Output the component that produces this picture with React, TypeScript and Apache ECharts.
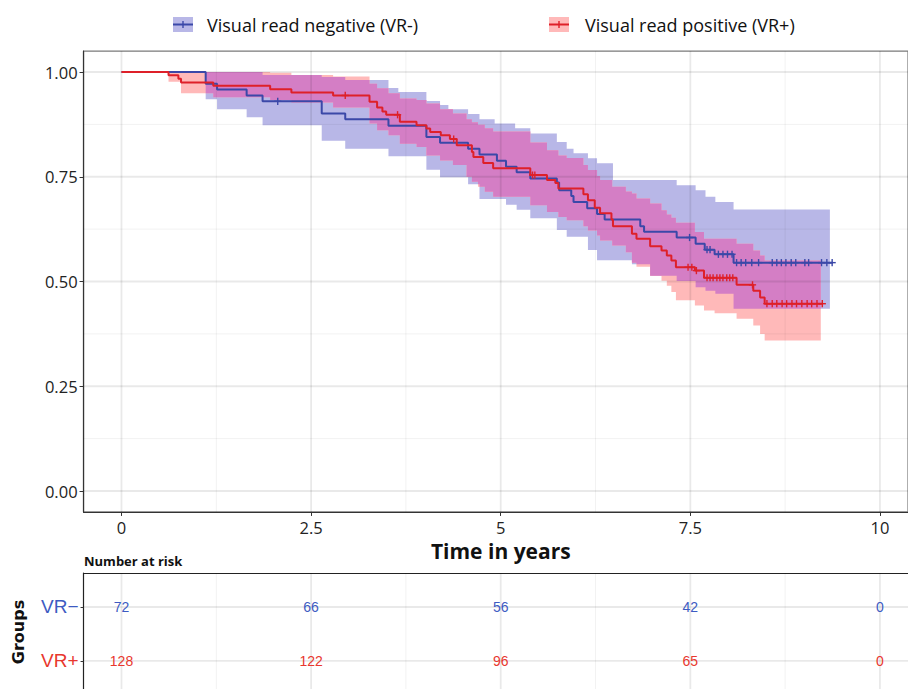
import React, { useEffect, useRef } from 'react';
import * as echarts from 'echarts';

// ---------- data ----------
const xTicks = [0, 2.5, 5, 7.5, 10];
const xMinorTicks = [1.25, 3.75, 6.25, 8.75];
const yTicks = [0, 0.25, 0.5, 0.75, 1];
const yMinorTicks = [0.125, 0.375, 0.625, 0.875];

const legendLabels = ['Visual read negative (VR-)', 'Visual read positive (VR+)'];
const groupLabels = ['VR−', 'VR+'];

// Kaplan-Meier steps: [time, survival] (value holds from time onward)
const negSteps = [
  [0, 1], [1.11, 0.972], [1.26, 0.958], [1.65, 0.944], [1.86, 0.93], [2.64, 0.901],
  [2.95, 0.887], [3.52, 0.872], [4.02, 0.845], [4.2, 0.831], [4.57, 0.817], [4.72, 0.803],
  [4.95, 0.788], [5.07, 0.774], [5.21, 0.761], [5.39, 0.746], [5.74, 0.736], [5.77, 0.718],
  [5.93, 0.704], [5.96, 0.69], [6.14, 0.675], [6.27, 0.661], [6.37, 0.648], [6.84, 0.632],
  [6.89, 0.619], [7.32, 0.605], [7.57, 0.59], [7.69, 0.576], [7.82, 0.565], [8.07, 0.545],
];
const negEnd = 9.38;
const posSteps = [
  [0, 1], [0.62, 0.992], [0.75, 0.984], [0.785, 0.975], [1.21, 0.967], [1.96, 0.959],
  [2.24, 0.951], [2.79, 0.944], [3.27, 0.929], [3.37, 0.915], [3.44, 0.906], [3.49, 0.898],
  [3.67, 0.881], [3.89, 0.873], [4.02, 0.865], [4.07, 0.857], [4.21, 0.849], [4.33, 0.84],
  [4.42, 0.825], [4.62, 0.809], [4.64, 0.797], [4.77, 0.783], [4.9, 0.77], [5.39, 0.754],
  [5.61, 0.742], [5.72, 0.735], [5.76, 0.722], [6.09, 0.708], [6.15, 0.694], [6.24, 0.676],
  [6.31, 0.663], [6.46, 0.648], [6.48, 0.632], [6.73, 0.614], [6.79, 0.602], [6.97, 0.584],
  [7.12, 0.574], [7.19, 0.562], [7.25, 0.55], [7.31, 0.534], [7.56, 0.526], [7.68, 0.509],
  [8.11, 0.492], [8.33, 0.478], [8.42, 0.462], [8.48, 0.447],
];
const posEnd = 9.25;

// censoring times
const negCensor = [
  2.06, 7.49, 7.72, 7.76, 7.87, 7.93, 7.99, 8.05, 8.11, 8.17, 8.23, 8.31, 8.4, 8.58, 8.64,
  8.7, 8.76, 8.83, 8.89, 9.01, 9.06, 9.23, 9.3, 9.37,
];
const posCensor = [
  2.95, 3.64, 4.38, 5.42, 5.45, 7.47, 7.52, 7.58, 7.72, 7.76, 7.8, 7.85, 7.89, 7.93, 7.98,
  8.02, 8.06, 8.32, 8.51, 8.58, 8.64, 8.71, 8.77, 8.84, 8.9, 8.97, 9.04, 9.1, 9.17, 9.24,
];

// confidence bands: [time, lower, upper]
const negBand = [
  [0, 1, 1], [1.11, 0.935, 1], [1.26, 0.911, 1], [1.65, 0.892, 1], [1.86, 0.873, 0.993],
  [2.64, 0.836, 0.988], [2.95, 0.817, 0.981], [3.52, 0.799, 0.962], [3.65, 0.799, 0.952],
  [4.02, 0.767, 0.931], [4.2, 0.749, 0.921], [4.31, 0.749, 0.911], [4.57, 0.732, 0.9],
  [4.72, 0.697, 0.887], [4.92, 0.697, 0.877], [5.07, 0.683, 0.877], [5.19, 0.683, 0.866],
  [5.21, 0.671, 0.866], [5.39, 0.651, 0.853], [5.74, 0.623, 0.833], [5.87, 0.607, 0.817],
  [5.96, 0.607, 0.806], [6.15, 0.575, 0.794], [6.27, 0.551, 0.782], [6.48, 0.551, 0.742],
  [6.73, 0.541, 0.742], [6.97, 0.514, 0.742], [7.32, 0.501, 0.73], [7.57, 0.486, 0.718],
  [7.7, 0.478, 0.702], [7.83, 0.471, 0.69], [8.07, 0.435, 0.672],
];
const negBandEnd = 9.34;
const posBand = [
  [0, 1, 1], [0.62, 0.977, 1], [0.785, 0.949, 1], [1.21, 0.94, 1], [1.96, 0.933, 0.998],
  [2.24, 0.927, 0.993], [2.79, 0.915, 0.989], [3.27, 0.877, 0.972], [3.37, 0.861, 0.961],
  [3.52, 0.849, 0.949], [3.67, 0.829, 0.937], [3.89, 0.821, 0.933], [4.02, 0.801, 0.925],
  [4.2, 0.789, 0.911], [4.37, 0.778, 0.901], [4.55, 0.75, 0.887], [4.62, 0.738, 0.88],
  [4.7, 0.726, 0.874], [4.79, 0.714, 0.866], [4.9, 0.702, 0.858], [5.39, 0.682, 0.832],
  [5.61, 0.666, 0.813], [5.76, 0.654, 0.801], [5.87, 0.646, 0.795], [6.09, 0.632, 0.778],
  [6.15, 0.622, 0.766], [6.27, 0.61, 0.752], [6.31, 0.598, 0.742], [6.47, 0.586, 0.726],
  [6.65, 0.57, 0.715], [6.73, 0.545, 0.71], [6.79, 0.535, 0.698], [6.97, 0.514, 0.686],
  [7.12, 0.502, 0.67], [7.19, 0.49, 0.66], [7.25, 0.475, 0.652], [7.31, 0.455, 0.64],
  [7.56, 0.443, 0.618], [7.68, 0.431, 0.602], [7.82, 0.424, 0.602], [8.11, 0.411, 0.59],
  [8.33, 0.395, 0.574], [8.42, 0.375, 0.562], [8.48, 0.359, 0.55],
];
const posBandEnd = 9.22;

// number at risk
const riskTimes = [0, 2.5, 5, 7.5, 10];
const riskNeg = [72, 66, 56, 42, 0];
const riskPos = [128, 122, 96, 65, 0];

// ---------- styles ----------
const BLUE_LINE = '#3B48A8';
const RED_LINE = '#DE2029';
const BLUE_BAND = '#B8B7E7';
const RED_BAND = '#FFB9B9';
const OVERLAP_BAND = '#D47EC5';
const BLUE_TEXT = '#3D5BC2';
const RED_TEXT = '#E8372E';
const GRID_MAJOR = 'rgba(0,0,0,0.085)';
const GRID_MINOR = 'rgba(0,0,0,0.055)';
const FONT = '"Open Sans"';

type Seg = { a: number; b: number; lo: number; hi: number };

function bandSegs(band: number[][], end: number): Seg[] {
  return band.map((r, i) => ({ a: r[0], b: i + 1 < band.length ? band[i + 1][0] : end, lo: r[1], hi: r[2] }));
}
function segAt(segs: Seg[], t: number): Seg | null {
  for (const s of segs) if (t >= s.a && t < s.b) return s;
  return null;
}
function overlapSegs(s1: Seg[], s2: Seg[]): Seg[] {
  const pts = Array.from(new Set([...s1.flatMap((s) => [s.a, s.b]), ...s2.flatMap((s) => [s.a, s.b])])).sort((a, b) => a - b);
  const out: Seg[] = [];
  for (let i = 0; i < pts.length - 1; i++) {
    const a = pts[i], b = pts[i + 1];
    const p = segAt(s1, a), q = segAt(s2, a);
    if (!p || !q) continue;
    const lo = Math.max(p.lo, q.lo), hi = Math.min(p.hi, q.hi);
    if (hi > lo) out.push({ a, b, lo, hi });
  }
  return out;
}
function polygons(segs: Seg[]): number[][][] {
  const polys: number[][][] = [];
  let cur: Seg[] = [];
  const flush = () => {
    if (cur.length) {
      const up = cur.flatMap((s) => [[s.a, s.hi], [s.b, s.hi]]);
      const dn = cur.slice().reverse().flatMap((s) => [[s.b, s.lo], [s.a, s.lo]]);
      polys.push([...up, ...dn]);
    }
    cur = [];
  };
  for (const s of segs) {
    if (s.hi - s.lo <= 1e-9) { flush(); continue; }
    if (cur.length && Math.abs(cur[cur.length - 1].b - s.a) > 1e-9) flush();
    cur.push(s);
  }
  flush();
  return polys;
}
function stepValue(steps: number[][], t: number): number {
  let v = steps[0][1];
  for (const s of steps) if (s[0] <= t) v = s[1];
  return v;
}

export default function App() {
  const ref = useRef<HTMLDivElement>(null);

  useEffect(() => {
    if (!ref.current) return;
    const chart = echarts.init(ref.current, undefined, { renderer: 'svg' });

    const negS = bandSegs(negBand, negBandEnd);
    const posS = bandSegs(posBand, posBandEnd);
    const ovS = overlapSegs(negS, posS);
    const polys: { p: number[][]; c: string }[] = [
      ...polygons(negS).map((p) => ({ p, c: BLUE_BAND })),
      ...polygons(posS).map((p) => ({ p, c: RED_BAND })),
      ...polygons(ovS).map((p) => ({ p, c: OVERLAP_BAND })),
    ];

    const mainGridLines = [
      ...xTicks.map((v) => [v, 0.5, 0]),
      ...xMinorTicks.map((v) => [v, 0.5, 1]),
      ...yTicks.map((v) => [5, v, 2]),
      ...yMinorTicks.map((v) => [5, v, 3]),
    ];
    const tableGridLines = [
      ...xTicks.map((v) => [v, 1.5, 0]),
      ...xMinorTicks.map((v) => [v, 1.5, 1]),
      [5, 2, 2],
      [5, 1, 2],
    ];

    const gridLineRender = (params: any, api: any) => {
      const cs = params.coordSys;
      const kind = api.value(2);
      const c = api.coord([api.value(0), api.value(1)]);
      const major = kind === 0 || kind === 2;
      const shape = kind < 2
        ? { x1: c[0], y1: cs.y, x2: c[0], y2: cs.y + cs.height }
        : { x1: cs.x, y1: c[1], x2: cs.x + cs.width, y2: c[1] };
      return {
        type: 'line',
        shape,
        style: { stroke: major ? GRID_MAJOR : GRID_MINOR, lineWidth: major ? 1.8 : 1 },
        silent: true,
      };
    };

    const censorRender = (color: string) => (params: any, api: any) => {
      const c = api.coord([api.value(0), api.value(1)]);
      const h = 3.6;
      return {
        type: 'group',
        children: [
          { type: 'line', shape: { x1: c[0] - h, y1: c[1], x2: c[0] + h, y2: c[1] }, style: { stroke: color, lineWidth: 1.4 } },
          { type: 'line', shape: { x1: c[0], y1: c[1] - h, x2: c[0], y2: c[1] + h }, style: { stroke: color, lineWidth: 1.4 } },
        ],
      };
    };

    const riskData = [
      ...riskTimes.map((t, i) => [t, 2, riskNeg[i], 0]),
      ...riskTimes.map((t, i) => [t, 1, riskPos[i], 1]),
    ];

    const X0 = 121.5;
    const XU = 75.85;
    const Y1 = 72;
    const YU = 419;
    const XMIN = -0.5;
    const XMAX = 10.37;
    const gridLeft = X0 + XMIN * XU;
    const gridWidth = (XMAX - XMIN) * XU;

    const option: any = {
      animation: false,
      backgroundColor: '#ffffff',
      textStyle: { fontFamily: 'Open Sans' },
      grid: [
        {
          left: gridLeft, width: gridWidth, top: Y1 - 0.05 * YU, height: 1.1 * YU,
          show: true, borderColor: '#7a7a7a', borderWidth: 1.2, backgroundColor: 'transparent',
        },
        { left: gridLeft, width: gridWidth, top: 573, height: 116 },
      ],
      xAxis: [
        {
          type: 'value', gridIndex: 0, min: XMIN, max: XMAX,
          axisLine: { show: true, onZero: false, lineStyle: { color: '#333', width: 1.2 } },
          axisTick: { show: true, customValues: xTicks, length: 4, lineStyle: { color: '#333' } },
          axisLabel: {
            show: true, customValues: xTicks, margin: 7, color: '#222', fontSize: 16.5, fontFamily: 'Open Sans',
            formatter: (v: number) => String(v),
          },
          splitLine: { show: false },
          name: 'Time in years', nameLocation: 'middle', nameGap: 25,
          nameTextStyle: {
            fontSize: 21, fontWeight: 'bold', color: '#111', fontFamily: 'Open Sans', verticalAlign: 'top',
            padding: [0, 0, 0, 10],
          },
        },
        {
          type: 'value', gridIndex: 1, min: XMIN, max: XMAX, position: 'top',
          axisLine: { show: true, onZero: false, lineStyle: { color: '#222', width: 1.2 } },
          axisTick: { show: false }, axisLabel: { show: false }, splitLine: { show: false },
        },
      ],
      yAxis: [
        {
          type: 'value', gridIndex: 0, min: -0.05, max: 1.05,
          axisLine: { show: true, onZero: false, lineStyle: { color: '#333', width: 1.2 } },
          axisTick: { show: true, customValues: yTicks, length: 4, lineStyle: { color: '#333' } },
          axisLabel: {
            show: true, customValues: yTicks, margin: 6, color: '#222', fontSize: 16.5, fontFamily: 'Open Sans',
            formatter: (v: number) => v.toFixed(2),
          },
          splitLine: { show: false },
        },
        {
          type: 'value', gridIndex: 1, min: 0.48, max: 2.63,
          axisLine: { show: true, onZero: false, lineStyle: { color: '#222', width: 1.2 } },
          axisTick: { show: true, customValues: [1, 2], length: 3, lineStyle: { color: '#333' } },
          axisLabel: {
            show: true, customValues: [1, 2], margin: 5,
            formatter: (v: number) => (v === 2 ? `{n|${groupLabels[0]}}` : `{p|${groupLabels[1]}}`),
            rich: {
              n: { color: BLUE_TEXT, fontSize: 19, fontFamily: 'Liberation Sans' },
              p: { color: RED_TEXT, fontSize: 19, fontFamily: 'Liberation Sans' },
            },
          },
          splitLine: { show: false },
        },
      ],
      series: [
        {
          type: 'custom', name: 'bands', xAxisIndex: 0, yAxisIndex: 0, z: 1, silent: true,
          data: polys.map((o, i) => [o.p[0][0], o.p[0][1], i]),
          renderItem: (params: any, api: any) => {
            const o = polys[params.dataIndex];
            return {
              type: 'polygon',
              shape: { points: o.p.map((pt) => api.coord(pt)) },
              style: { fill: o.c, stroke: 'none' },
            };
          },
        },
        {
          type: 'custom', name: 'mainGrid', xAxisIndex: 0, yAxisIndex: 0, z: 2, silent: true,
          data: mainGridLines, renderItem: gridLineRender,
        },
        {
          type: 'line', name: legendLabels[0], xAxisIndex: 0, yAxisIndex: 0, z: 3,
          step: 'end', showSymbol: false, symbol: 'none',
          data: [...negSteps, [negEnd, negSteps[negSteps.length - 1][1]]],
          lineStyle: { color: BLUE_LINE, width: 2 },
        },
        {
          type: 'line', name: legendLabels[1], xAxisIndex: 0, yAxisIndex: 0, z: 3,
          step: 'end', showSymbol: false, symbol: 'none',
          data: [...posSteps, [posEnd, posSteps[posSteps.length - 1][1]]],
          lineStyle: { color: RED_LINE, width: 2 },
        },
        {
          type: 'custom', name: 'negCensor', xAxisIndex: 0, yAxisIndex: 0, z: 4, silent: true,
          data: negCensor.map((t) => [t, stepValue(negSteps, t)]),
          renderItem: censorRender(BLUE_LINE),
        },
        {
          type: 'custom', name: 'posCensor', xAxisIndex: 0, yAxisIndex: 0, z: 4, silent: true,
          data: posCensor.map((t) => [t, stepValue(posSteps, t)]),
          renderItem: censorRender(RED_LINE),
        },
        {
          type: 'custom', name: 'tableGrid', xAxisIndex: 1, yAxisIndex: 1, z: 1, silent: true,
          data: tableGridLines, renderItem: gridLineRender,
        },
        {
          type: 'custom', name: 'risk', xAxisIndex: 1, yAxisIndex: 1, z: 3, silent: true,
          data: riskData,
          renderItem: (params: any, api: any) => {
            const c = api.coord([api.value(0), api.value(1)]);
            const g = api.value(3);
            return {
              type: 'text',
              x: c[0], y: c[1],
              style: {
                text: String(api.value(2)),
                fill: g === 0 ? BLUE_TEXT : RED_TEXT,
                font: '14px "Liberation Sans"',
                align: 'center', verticalAlign: 'middle',
                textAlign: 'center', textVerticalAlign: 'middle',
              },
            };
          },
        },
      ],
      graphic: [
        { type: 'rect', shape: { x: 173, y: 17, width: 20, height: 15 }, style: { fill: BLUE_BAND } },
        { type: 'line', shape: { x1: 173, y1: 24.5, x2: 193, y2: 24.5 }, style: { stroke: BLUE_LINE, lineWidth: 2 } },
        { type: 'line', shape: { x1: 183, y1: 21, x2: 183, y2: 28 }, style: { stroke: BLUE_LINE, lineWidth: 1.4 } },
        { type: 'text', x: 207, y: 24.5, style: { text: legendLabels[0], font: `18px ${FONT}`, fill: '#111', align: 'left', verticalAlign: 'middle' } },
        { type: 'rect', shape: { x: 549, y: 17, width: 20, height: 15 }, style: { fill: RED_BAND } },
        { type: 'line', shape: { x1: 549, y1: 24.5, x2: 569, y2: 24.5 }, style: { stroke: RED_LINE, lineWidth: 2 } },
        { type: 'line', shape: { x1: 559, y1: 21, x2: 559, y2: 28 }, style: { stroke: RED_LINE, lineWidth: 1.4 } },
        { type: 'text', x: 585, y: 24.5, style: { text: legendLabels[1], font: `18px ${FONT}`, fill: '#111', align: 'left', verticalAlign: 'middle' } },
        { type: 'text', x: 84, y: 561, style: { text: 'Number at risk', font: `bold 13px ${FONT}`, fill: '#111', align: 'left', verticalAlign: 'middle' } },
        {
          type: 'text', x: 18, y: 632, rotation: Math.PI / 2,
          style: { text: 'Groups', font: 'bold 16px "DejaVu Sans"', fill: '#111', align: 'center', verticalAlign: 'middle' },
        },
      ],
    };

    chart.setOption(option);
    return () => chart.dispose();
  }, []);

  return (
    <div
      ref={ref}
      style={{ position: 'absolute', left: 0, top: 0, width: 908, height: 689, background: '#fff' }}
    />
  );
}
